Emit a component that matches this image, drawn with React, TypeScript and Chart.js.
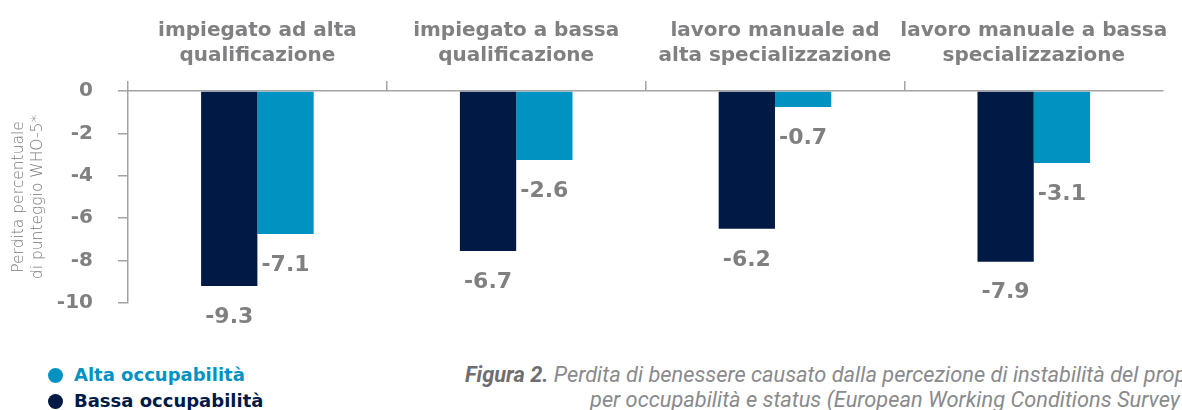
import React, { useEffect, useRef } from "react";
import { Chart, registerables } from "chart.js";

Chart.register(...registerables);

// ---- data ----
const categories: string[][] = [
  ["impiegato ad alta", "qualificazione"],
  ["impiegato a bassa", "qualificazione"],
  ["lavoro manuale ad", "alta specializzazione"],
  ["lavoro manuale a bassa", "specializzazione"],
];
const seriesNames = ["Bassa occupabilità", "Alta occupabilità"];
// bar lengths as drawn in the picture
const bassaValues = [-9.2, -7.55, -6.5, -8.05];
const altaValues = [-6.75, -3.25, -0.75, -3.4];
// value labels as printed in the picture
const bassaLabels = ["-9.3", "-6.7", "-6.2", "-7.9"];
const altaLabels = ["-7.1", "-2.6", "-0.7", "-3.1"];
const yTickValues = [-10, -8, -6, -4, -2, 0];
const yTitle = ["Perdita percentuale", "di punteggio WHO-5*"];
const captionBold = "Figura 2.";
const captionLine1 = " Perdita di benessere causato dalla percezione di instabilità del proprio";
const captionLine2 = "per occupabilità e status (European Working Conditions Survey";

// ---- styles ----
const NAVY = "#011a45";
const BLUE = "#0093c2";
const GRAY = "#808083";
const AXIS = "#a3a3a3";
const FONT = "'DejaVu Sans', 'Open Sans', sans-serif";

const valueLabelsPlugin = {
  id: "valueLabels",
  afterDatasetsDraw(chart: any) {
    const ctx = chart.ctx;
    ctx.save();
    ctx.font = `700 22px ${FONT}`;
    ctx.fillStyle = GRAY;
    ctx.textAlign = "center";
    ctx.textBaseline = "middle";
    chart.data.datasets.forEach((ds: any, di: number) => {
      const meta = chart.getDatasetMeta(di);
      meta.data.forEach((bar: any, i: number) => {
        ctx.fillText(ds.valueLabels[i], bar.x, bar.y + 31);
      });
    });
    ctx.restore();
  },
};

function BarChart() {
  const ref = useRef<HTMLCanvasElement | null>(null);
  useEffect(() => {
    if (!ref.current) return;
    const chart = new Chart(ref.current, {
      type: "bar",
      data: {
        labels: categories,
        datasets: [
          {
            label: seriesNames[0],
            data: bassaValues,
            backgroundColor: NAVY,
            borderWidth: 0,
            valueLabels: bassaLabels,
          } as any,
          {
            label: seriesNames[1],
            data: altaValues,
            backgroundColor: BLUE,
            borderWidth: 0,
            valueLabels: altaLabels,
          } as any,
        ],
      },
      options: {
        animation: false,
        responsive: false,
        events: [],
        layout: { padding: { left: 0, top: 0, right: 14, bottom: 36 } },
        datasets: { bar: { categoryPercentage: 0.435, barPercentage: 1.0 } },
        plugins: { legend: { display: false }, tooltip: { enabled: false } },
        scales: {
          x: {
            type: "category",
            position: "top",
            grid: {
              offset: true,
              drawOnChartArea: false,
              drawTicks: true,
              tickLength: 10,
              lineWidth: 1.5,
              color: (c: any) => (c.type === "tick" ? AXIS : "rgba(0,0,0,0)"),
            },
            border: { display: true, color: AXIS, width: 1.5 },
            ticks: {
              autoSkip: false,
              maxRotation: 0,
              minRotation: 0,
              padding: 13,
              color: GRAY,
              font: { family: FONT, weight: "bold", size: 20, lineHeight: 1.25 },
            },
            afterFit: (s: any) => {
              s.height = 91;
            },
          },
          y: {
            min: -10,
            max: 0,
            afterBuildTicks: (s: any) => {
              s.ticks = yTickValues.map((v) => ({ value: v }));
            },
            grid: {
              drawOnChartArea: false,
              drawTicks: true,
              tickLength: 10,
              lineWidth: 1.5,
              color: AXIS,
            },
            border: { display: true, color: AXIS, width: 1.5 },
            ticks: {
              padding: 25,
              color: GRAY,
              font: { family: FONT, weight: "bold", size: 20 },
              callback: (v: any) => String(v),
            },
            title: {
              display: true,
              text: yTitle,
              color: "#77777a",
              font: { family: FONT, weight: 200, size: 15.5, lineHeight: 1.2 },
              padding: { top: 10, bottom: 0 },
            },
            afterFit: (s: any) => {
              s.width = 128;
            },
          },
        },
      } as any,
      plugins: [valueLabelsPlugin],
    });
    return () => chart.destroy();
  }, []);
  return <canvas ref={ref} width={1182} height={340} style={{ width: 1182, height: 340, display: "block" }} />;
}

export default function App() {
  const legendItem = (color: string, text: string, top: number) => (
    <div style={{ position: "absolute", left: 48, top, height: 22, display: "flex", alignItems: "center" }}>
      <span style={{ width: 15, height: 15, borderRadius: "50%", background: color, display: "inline-block" }} />
      <span style={{ marginLeft: 11, font: `700 18px ${FONT}`, lineHeight: "22px", color }}>{text}</span>
    </div>
  );
  const captionStyle: React.CSSProperties = {
    position: "absolute",
    whiteSpace: "nowrap",
    font: "italic 400 21.8px Roboto, sans-serif",
    lineHeight: "24px",
    color: "#8a8a8c",
  };
  return (
    <div
      style={{
        position: "fixed",
        left: 0,
        top: 0,
        width: 1182,
        height: 410,
        overflow: "hidden",
        background: "#fff",
      }}
    >
      <div style={{ position: "absolute", left: 0, top: 0 }}>
        <BarChart />
      </div>
      {legendItem(BLUE, seriesNames[1], 364)}
      {legendItem(NAVY, seriesNames[0], 390)}
      <div style={{ ...captionStyle, left: 465, top: 363 }}>
        <span style={{ fontWeight: 700, color: "#6e6e70" }}>{captionBold}</span>
        {captionLine1}
      </div>
      <div style={{ ...captionStyle, left: 590, top: 388 }}>{captionLine2}</div>
    </div>
  );
}
